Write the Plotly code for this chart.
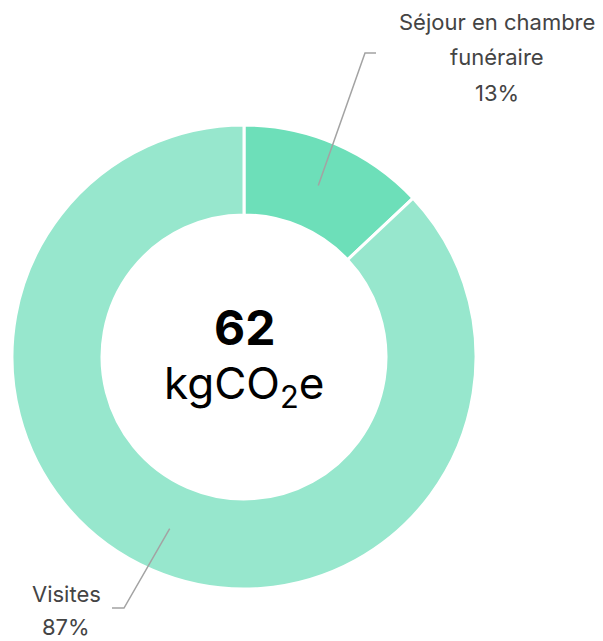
import math
import plotly.graph_objects as go

# Emission breakdown (share of total, %)
categories = ["Séjour en chambre funéraire", "Visites"]
shares = [13, 87]
total_kg = 62
colors = ["#6ddfb9", "#97e7cd"]

W, H = 603, 641
cx, cy, R = 244, 357, 232
hole = 0.612

fig = go.Figure()

fig.add_trace(go.Pie(
    labels=categories,
    values=shares,
    sort=False,
    direction="clockwise",
    rotation=0,
    hole=hole,
    marker=dict(colors=colors, line=dict(color="white", width=3)),
    textinfo="none",
    hoverinfo="label+percent",
    showlegend=False,
    domain=dict(x=[(cx - R) / W, (cx + R) / W],
                y=[1 - (cy + R) / H, 1 - (cy - R) / H]),
))

# Mid-angle of each slice, measured clockwise from 12 o'clock
tot = sum(shares)
mid_angles = []
acc = 0
for v in shares:
    mid_angles.append((acc + v / 2) / tot * 2 * math.pi)
    acc += v

r_mid = (R + hole * R) / 2
anchors = [(cx + r_mid * math.sin(a), cy - r_mid * math.cos(a)) for a in mid_angles]

# Label layout: elbow point, end of horizontal tick, text lines (x, y)
label_layout = [
    dict(elbow=(365, 53), end=(376, 53),
         lines=[("Séjour en chambre", 497, 22), ("funéraire", 497, 57)], pct=(497, 93)),
    dict(elbow=(124, 608), end=(112, 608),
         lines=[("Visites", 66, 594)], pct=(66, 627)),
]

font_lbl = dict(family="Inter, 'Noto Sans', sans-serif", size=22, color="#444444")

for (ax_, ay_), lay, v in zip(anchors, label_layout, shares):
    ex, ey = lay["elbow"]
    tx, ty = lay["end"]
    fig.add_shape(type="path", xref="x", yref="y", layer="above",
                  path=f"M {ax_:.1f} {ay_:.1f} L {ex} {ey} L {tx} {ty}",
                  line=dict(color="#a3a3a3", width=1.5))
    for text, x, y in lay["lines"]:
        fig.add_annotation(x=x, y=y, xref="x", yref="y", text=text,
                           showarrow=False, font=font_lbl,
                           xanchor="center", yanchor="middle")
    px, py = lay["pct"]
    fig.add_annotation(x=px, y=py, xref="x", yref="y",
                       text=f"{round(v / tot * 100)}%",
                       showarrow=False, font=font_lbl,
                       xanchor="center", yanchor="middle")

# Centre total
fig.add_annotation(x=cx, y=cy - 30, xref="x", yref="y", text=f"<b>{total_kg}</b>",
                   showarrow=False, xanchor="center", yanchor="middle",
                   font=dict(family="Inter, sans-serif", size=48, color="#000000"))
fig.add_annotation(x=cx, y=cy + 28, xref="x", yref="y", text="kgCO<sub>2</sub>e",
                   showarrow=False, xanchor="center", yanchor="middle",
                   font=dict(family="Inter, sans-serif", size=44, color="#000000"))

fig.update_layout(
    width=W, height=H,
    margin=dict(l=0, r=0, t=0, b=0),
    paper_bgcolor="white", plot_bgcolor="rgba(0,0,0,0)",
    xaxis=dict(range=[0, W], visible=False, domain=[0, 1], fixedrange=True),
    yaxis=dict(range=[H, 0], visible=False, domain=[0, 1], fixedrange=True),
)

fig.write_html("out.html")
